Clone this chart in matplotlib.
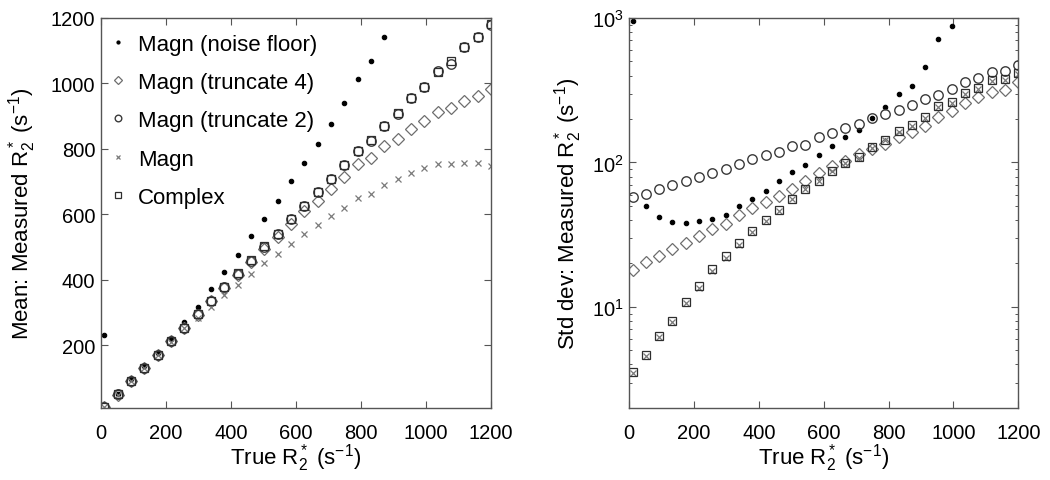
import numpy as np
import matplotlib
matplotlib.use("Agg")
import matplotlib.pyplot as plt
from matplotlib.ticker import FixedLocator, LogLocator, FuncFormatter, NullFormatter

plt.rcParams['font.family'] = ['Liberation Sans', 'DejaVu Sans']
plt.rcParams['mathtext.fontset'] = 'custom'
plt.rcParams['mathtext.rm'] = 'Liberation Sans'
plt.rcParams['mathtext.it'] = 'Liberation Sans:italic'

# true R2* values (s^-1)
true_r2 = np.linspace(10, 1200, 30)

# mean of measured R2*
mean_noise_floor = [231, 53, 97, 136, 177, 221, 272, 318, 372, 424, 477, 534, 587, 641, 701,
                    758, 816, 875, 940, 1013, 1069, 1142, np.nan, np.nan, np.nan, np.nan,
                    np.nan, np.nan, np.nan, np.nan]
mean_trunc4 = [11, 50, 90, 131, 171, 213, 253, 294, 335, 376, 414, 455, 494, 532, 571,
               610, 642, 679, 714, 755, 772, 809, 832, 860, 884, 913, 925, 946, 962, 982]
mean_trunc2 = [12, 51, 91, 132, 172, 214, 254, 296, 337, 379, 418, 459, 502, 540, 585,
               626, 669, 707, 750, 794, 824, 870, 908, 957, 989, 1037, 1061, 1110, 1141, 1180]
mean_magn = [11, 50, 90, 131, 171, 212, 252, 284, 318, 353, 386, 419, 452, 479, 510,
             541, 567, 594, 621, 651, 664, 689, 709, 728, 742, 753, 755, 756, 758, 747]
mean_complex = [12, 51, 91, 132, 172, 214, 254, 296, 337, 379, 420, 460, 503, 541, 586,
                627, 668, 708, 751, 793, 826, 869, 909, 956, 990, 1036, 1068, 1110, 1142, 1182]

# std dev of measured R2*
std_noise_floor = [953, 50, 42, 38.6, 38, 39.3, 40.7, 43.4, 49.8, 56, 63, 74, 86, 96, 112,
                   131, 150, 167, 204, 242, 299, 338, 458, 720, 880, np.nan, np.nan,
                   np.nan, np.nan, np.nan]
std_trunc4 = [17.9, 20.4, 22.4, 25.2, 27.6, 31.2, 34.7, 37.6, 43.6, 48.3, 53.1, 59, 66, 75, 85,
              95, 103, 115, 124, 135, 150, 162, 180, 206, 226, 259, 284, 307, 315, 360]
std_trunc2 = [57.5, 61, 66, 70, 75, 79, 85, 90, 98, 105, 112, 118, 131, 133, 151,
              161, 173, 185, 204, 217, 232, 248, 273, 294, 324, 360, 384, 423, 429, 475]
std_magn = [3.5, 4.6, 6.2, 7.9, 10.6, 13.6, 17.8, 21.8, 27.0, 32.8, 39.5, 46.5, 55.5, 65.5, 74,
            87, 99, 108, 126, 142, 162, 180, 204, 242, 258, 298, 322, 364, 370, 410]
std_complex = [3.56, 4.65, 6.26, 8.04, 10.8, 13.9, 18.2, 22.4, 27.6, 33.4, 40.3, 47.2, 56, 66, 75,
               88, 99.6, 109, 128, 144, 164, 182, 206, 245, 262, 302, 327, 370, 376, 418]

labels = ['Magn (noise floor)', 'Magn (truncate 4)', 'Magn (truncate 2)', 'Magn', 'Complex']
styles = [
    dict(marker='o', ms=3.2, mfc='black', mec='black', mew=0.8),
    dict(marker='D', ms=5.8, mfc='none', mec='#6e6e6e', mew=0.9),
    dict(marker='o', ms=6.8, mfc='none', mec='#3a3a3a', mew=1.0),
    dict(marker='x', ms=5.0, mfc='none', mec='#7a7a7a', mew=0.9),
    dict(marker='s', ms=6.0, mfc='none', mec='#2e2e2e', mew=0.9),
]

fig = plt.figure(figsize=(10.5, 4.81), dpi=100)
ax1 = fig.add_axes([0.0962, 0.1497, 0.3714, 0.8108])
ax2 = fig.add_axes([0.5993, 0.1497, 0.3705, 0.8108])

mean_series = [mean_noise_floor, mean_trunc4, mean_trunc2, mean_magn, mean_complex]
std_series = [std_noise_floor, std_trunc4, std_trunc2, std_magn, std_complex]

for vals, lab, st in zip(mean_series, labels, styles):
    ax1.plot(true_r2, vals, ls='none', label=lab, **st)
for vals, st in zip(std_series, styles):
    ax2.plot(true_r2, vals, ls='none', **st)

for ax in (ax1, ax2):
    ax.set_xlim(0, 1200)
    ax.xaxis.set_major_locator(FixedLocator([0, 200, 400, 600, 800, 1000, 1200]))
    ax.tick_params(direction='in', top=True, right=True, labelsize=14.5, pad=11,
                   length=5, width=0.8, color='#555555')
    ax.tick_params(which='minor', direction='in', top=True, right=True, length=2.5,
                   width=0.7, color='#555555')
    for sp in ax.spines.values():
        sp.set_color('#555555')
        sp.set_linewidth(1.0)
    ax.set_xlabel('True R$_2^*$ (s$^{-1}$)', fontsize=16, labelpad=-1)

ax1.set_ylim(9, 1200)
ax1.yaxis.set_major_locator(FixedLocator([200, 400, 600, 800, 1000, 1200]))
ax1.tick_params(axis='y', pad=4)
ax1.set_ylabel('Mean: Measured R$_2^*$ (s$^{-1}$)', fontsize=16, labelpad=9)

ax2.set_yscale('log')
ax2.set_ylim(2, 1000)
ax2.yaxis.set_major_locator(LogLocator(base=10, numticks=10))
ax2.yaxis.set_minor_locator(LogLocator(base=10, subs=np.arange(2, 10), numticks=20))
ax2.yaxis.set_minor_formatter(NullFormatter())
ax2.yaxis.set_major_formatter(FuncFormatter(lambda v, p: '10$^{%d}$' % round(np.log10(v))))
ax2.tick_params(axis='y', pad=4)
ax2.set_ylabel('Std dev: Measured R$_2^*$ (s$^{-1}$)', fontsize=16, labelpad=6)

leg = ax1.legend(loc='upper left', frameon=False, fontsize=16, markerscale=0.7,
                 handlelength=0.8, handletextpad=0.5, labelspacing=0.78,
                 borderaxespad=0.3, bbox_to_anchor=(-0.02, 1.0))

fig.savefig('out.png', dpi=100)
